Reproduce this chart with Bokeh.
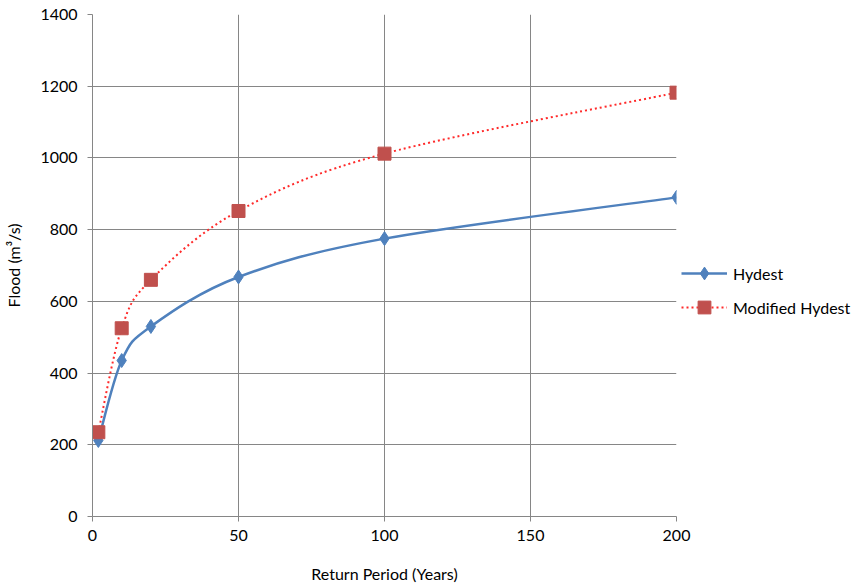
from bokeh.plotting import figure
from bokeh.models import Legend, LegendItem, Range1d, FixedTicker
from bokeh.embed import file_html
from bokeh.resources import INLINE

return_period = [2, 10, 20, 50, 100, 200]
hydest = [212, 435, 530, 668, 775, 890]
modified_hydest = [235, 525, 660, 852, 1012, 1182]
x_ticks = [0, 50, 100, 150, 200]
y_ticks = [0, 200, 400, 600, 800, 1000, 1200, 1400]

FONT = "Lato"
BLUE = "#4F81BD"
RED_LINE = "#FF2A2A"
RED_MARK = "#C0504D"


def smooth_segments(xs, ys):
    n = len(xs)
    x0, y0, x1, y1, cx0, cy0, cx1, cy1 = [], [], [], [], [], [], [], []
    for i in range(n - 1):
        pa = (xs[max(i - 1, 0)], ys[max(i - 1, 0)])
        pb = (xs[i], ys[i])
        pc = (xs[i + 1], ys[i + 1])
        pd = (xs[min(i + 2, n - 1)], ys[min(i + 2, n - 1)])
        x0.append(pb[0]); y0.append(pb[1])
        x1.append(pc[0]); y1.append(pc[1])
        cx0.append(pb[0] + (pc[0] - pa[0]) / 6.0)
        cy0.append(pb[1] + (pc[1] - pa[1]) / 6.0)
        cx1.append(pc[0] - (pd[0] - pb[0]) / 6.0)
        cy1.append(pc[1] - (pd[1] - pb[1]) / 6.0)
    return dict(x0=x0, y0=y0, x1=x1, y1=y1, cx0=cx0, cy0=cy0, cx1=cx1, cy1=cy1)


p = figure(
    frame_width=584, frame_height=502,
    output_backend="svg", toolbar_location=None,
    x_range=Range1d(0, 200), y_range=Range1d(0, 1400),
    min_border_left=92, min_border_top=14, min_border_bottom=64, min_border_right=171,
    background_fill_color="white", border_fill_color="white",
)
p.outline_line_color = None

for ax in (p.xaxis[0], p.yaxis[0]):
    ax.axis_line_color = "#868686"
    ax.major_tick_line_color = "#868686"
    ax.major_tick_out = 5
    ax.major_tick_in = 0
    ax.minor_tick_line_color = None
    ax.major_label_text_font = FONT
    ax.major_label_text_font_size = "16px"
    ax.major_label_text_color = "#000000"
    ax.axis_label_text_font = FONT
    ax.axis_label_text_font_size = "16px"
    ax.axis_label_text_font_style = "normal"
    ax.axis_label_text_color = "#000000"

p.xaxis.ticker = FixedTicker(ticks=x_ticks)
p.yaxis.ticker = FixedTicker(ticks=y_ticks)
p.xaxis.axis_label = "Return Period (Years)"
p.yaxis.axis_label = "Flood (m³/s)"
p.xaxis.major_label_standoff = 8
p.yaxis.major_label_standoff = 10
p.xaxis.axis_label_standoff = 20
p.yaxis.axis_label_standoff = 14

p.xgrid.ticker = FixedTicker(ticks=x_ticks)
p.ygrid.ticker = FixedTicker(ticks=y_ticks)
p.xgrid.grid_line_color = "#868686"
p.ygrid.grid_line_color = "#868686"

hs = smooth_segments(return_period, hydest)
ms = smooth_segments(return_period, modified_hydest)

p.bezier(x0="x0", y0="y0", x1="x1", y1="y1", cx0="cx0", cy0="cy0", cx1="cx1", cy1="cy1",
         source=hs, line_color=BLUE, line_width=2.5)
p.bezier(x0="x0", y0="y0", x1="x1", y1="y1", cx0="cx0", cy0="cy0", cx1="cx1", cy1="cy1",
         source=ms, line_color=RED_LINE, line_width=2, line_dash="2 3")

h_mark = p.scatter(return_period, hydest, marker="diamond", size=14,
                   fill_color=BLUE, line_color=BLUE)
m_mark = p.scatter(return_period, modified_hydest, marker="square", size=13,
                   fill_color=RED_MARK, line_color=RED_MARK)

# legend proxies
h_line = p.line([None], [None], line_color=BLUE, line_width=2.5)
m_line = p.line([None], [None], line_color=RED_LINE, line_width=2, line_dash="2 3")

legend = Legend(
    items=[LegendItem(label="Hydest", renderers=[h_line, h_mark]),
           LegendItem(label="Modified Hydest", renderers=[m_line, m_mark])],
    location=(5, 193),
    glyph_width=46, glyph_height=32, label_height=32, spacing=2,
    padding=0, margin=0,
    label_text_font=FONT, label_text_font_size="16px", label_text_color="#000000",
    label_standoff=6,
    border_line_color=None, background_fill_alpha=0,
)
p.add_layout(legend, "right")

open("out.html", "w").write(file_html(p, INLINE))
